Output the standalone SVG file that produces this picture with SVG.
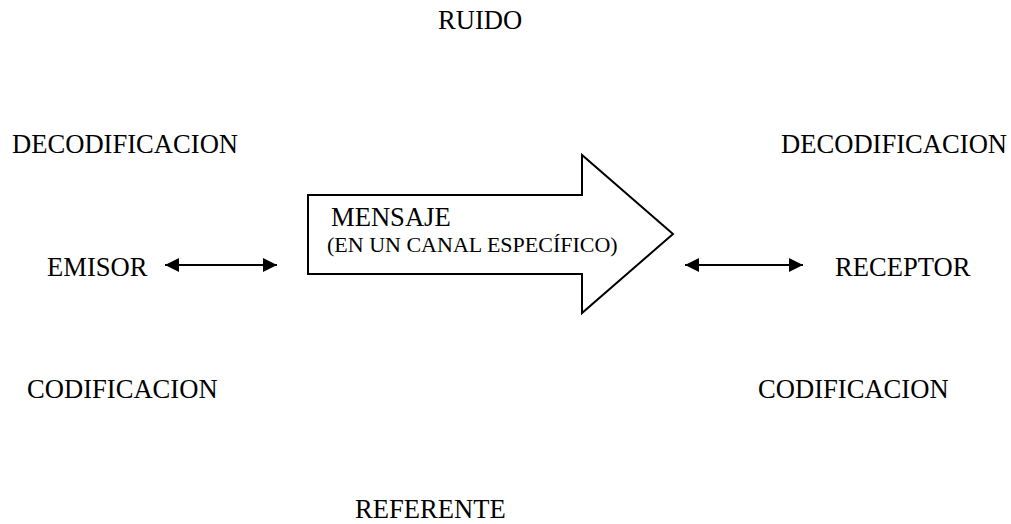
<svg xmlns="http://www.w3.org/2000/svg" width="1011" height="524" viewBox="0 0 1011 524">
<style>
.t{font-family:"Liberation Serif","Times New Roman",serif;font-size:26.6px;fill:#000}
.s{font-family:"Liberation Serif","Times New Roman",serif;font-size:22px;fill:#000}
.c{stroke:#000;stroke-width:2;fill:none}
</style>
<defs>
<marker id="ah" viewBox="0 0 10 10" refX="10" refY="5" markerWidth="7.5" markerHeight="7" orient="auto-start-reverse" markerUnits="strokeWidth">
<path d="M0,0 L10,5 L0,10 Z" fill="#000"/>
</marker>
</defs>
<rect width="1011" height="524" fill="#fff"/>
<g id="ruido"><text class="t" x="438" y="29">RUIDO</text></g>
<g id="decod-left"><text class="t" x="12" y="153">DECODIFICACION</text></g>
<g id="decod-right"><text class="t" x="781" y="153">DECODIFICACION</text></g>
<g id="emisor"><text class="t" x="47" y="276">EMISOR</text></g>
<g id="receptor"><text class="t" x="835" y="276">RECEPTOR</text></g>
<g id="cod-left"><text class="t" x="27" y="398">CODIFICACION</text></g>
<g id="cod-right"><text class="t" x="758" y="398">CODIFICACION</text></g>
<g id="referente"><text class="t" x="355" y="518">REFERENTE</text></g>
<g id="mensaje">
<path d="M308,195 H582 V155 L673,234 L582,313 V274 H308 Z" fill="#fff" stroke="#000" stroke-width="2" stroke-linejoin="miter"/>
<text class="t" x="331" y="226">MENSAJE</text>
<text class="s" x="327" y="252">(EN UN CANAL ESPECÍFICO)</text>
</g>
<g id="connectors">
<line class="c" x1="165" y1="265" x2="277" y2="265" marker-start="url(#ah)" marker-end="url(#ah)"/>
<line class="c" x1="685" y1="265" x2="803" y2="265" marker-start="url(#ah)" marker-end="url(#ah)"/>
</g>
</svg>
